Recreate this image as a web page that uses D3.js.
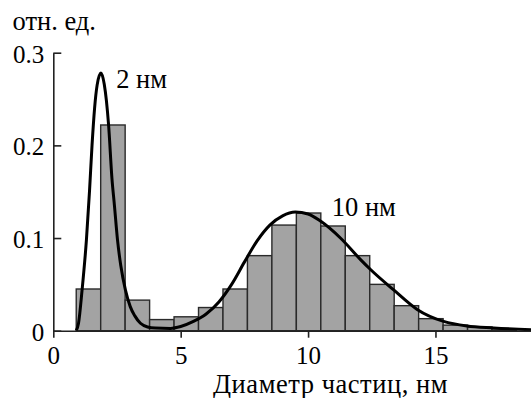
<!DOCTYPE html>
<html>
<head>
<meta charset="utf-8">
<script src="https://cdn.jsdelivr.net/npm/d3@7"></script>
<style>
  body { margin: 0; background: #fff; }
</style>
</head>
<body>
<svg id="chart" width="531" height="398"></svg>
<script>
// границы интервалов гистограммы (нм)
const binEdges = [0.9, 1.86, 2.82, 3.78, 4.74, 5.7, 6.66, 7.62, 8.58, 9.54, 10.5, 11.46, 12.42, 13.38, 14.34, 15.3, 16.26, 17.22, 18.18];
// высоты столбцов, отн. ед.
const binValues = [0.045, 0.222, 0.033, 0.012, 0.015, 0.025, 0.045, 0.081, 0.114, 0.127, 0.113, 0.081, 0.050, 0.027, 0.013, 0.006, 0.004, 0.002];

// аппроксимирующая кривая (точки)
const curveX = [0.9, 0.99, 1.13, 1.3, 1.42, 1.52, 1.62, 1.72, 1.87, 2.0, 2.17, 2.3, 2.4, 2.52, 2.65, 2.83, 3.02, 3.2, 3.42, 3.7, 4.0, 4.6, 5.0, 5.5, 6.0, 6.5, 7.0, 7.5, 8.0, 8.5, 9.0, 9.5, 10.0, 10.5, 11.27, 12.05, 12.45, 13.36, 14.28, 15.32, 16.24, 17.29, 18.8];
const curveY = [0, 0.008, 0.044, 0.098, 0.15, 0.2, 0.24, 0.265, 0.278, 0.266, 0.222, 0.165, 0.135, 0.098, 0.07, 0.044, 0.026, 0.016, 0.008, 0.004, 0.0028, 0.0025, 0.0045, 0.01, 0.018, 0.031, 0.05, 0.074, 0.097, 0.114, 0.124, 0.128, 0.126, 0.118, 0.1, 0.077, 0.066, 0.044, 0.023, 0.01, 0.005, 0.003, 0.001];

const xTicks = [0, 5, 10, 15];
const yTicks = [0, 0.1, 0.2, 0.3];
const peakLabels = [
  { text: "2 нм", x: 2.47, y: 0.262 },
  { text: "10 нм", x: 10.93, y: 0.124 }
];

const FONT = "Liberation Serif";
const FS_TICK = 25;
const FS_TEXT = 26.5;

const svg = d3.select("#chart");
const x = d3.scaleLinear().domain([0, 18.75]).range([53.3, 531]);
const y = d3.scaleLinear().domain([0, 0.3]).range([330.7, 52.7]);

// столбцы
const bins = binValues.map((v, i) => ({ x0: binEdges[i], x1: binEdges[i + 1], v: v }));
svg.append("g").selectAll("rect")
  .data(bins)
  .join("rect")
  .attr("x", d => x(d.x0))
  .attr("y", d => y(d.v))
  .attr("width", d => x(d.x1) - x(d.x0))
  .attr("height", d => y(0) - y(d.v))
  .attr("fill", "#a3a3a3")
  .attr("stroke", "#2a2a2a")
  .attr("stroke-width", 1.4);

// кривая
const pts = curveX.map((v, i) => [v, curveY[i]]);
svg.append("path")
  .datum(pts)
  .attr("fill", "none")
  .attr("stroke", "#000")
  .attr("stroke-width", 3)
  .attr("d", d3.line().x(d => x(d[0])).y(d => y(d[1])).curve(d3.curveMonotoneX));

// ось X
const xAxis = svg.append("g")
  .attr("transform", `translate(0,${y(0)})`)
  .call(d3.axisBottom(x).tickValues(xTicks).tickSize(7).tickSizeOuter(0).tickFormat(d3.format("d")));
xAxis.select(".domain").attr("stroke", "#222").attr("stroke-width", 1.6);
xAxis.selectAll(".tick line").attr("stroke", "#222").attr("stroke-width", 1.6);
xAxis.selectAll(".tick text")
  .attr("font-size", FS_TICK)
  .attr("fill", "#000")
  .attr("dy", null)
  .attr("y", 33.3);

// ось Y
const yAxis = svg.append("g")
  .attr("transform", `translate(${x(0)},0)`)
  .call(d3.axisRight(y).tickValues(yTicks).tickSize(8).tickSizeOuter(0).tickFormat(d => d === 0 ? "0" : d3.format(".1f")(d)));
yAxis.select(".domain").attr("stroke", "#222").attr("stroke-width", 1.6);
yAxis.selectAll(".tick line").attr("stroke", "#222").attr("stroke-width", 1.6);
yAxis.selectAll(".tick text")
  .attr("font-size", FS_TICK)
  .attr("fill", "#000")
  .attr("text-anchor", "end")
  .attr("x", -9)
  .attr("dy", null)
  .attr("y", 9.5);

// подписи
svg.selectAll(".peak")
  .data(peakLabels)
  .join("text")
  .attr("class", "peak")
  .attr("x", d => x(d.x))
  .attr("y", d => y(d.y))
  .attr("font-size", FS_TEXT)
  .text(d => d.text);

svg.append("text")
  .attr("x", 12.5)
  .attr("y", 29.5)
  .attr("font-size", FS_TEXT)
  .text("отн. ед.");

svg.append("text")
  .attr("x", 213)
  .attr("y", 393.3)
  .attr("font-size", FS_TEXT)
  .attr("textLength", 234.5)
  .text("Диаметр частиц, нм");

svg.selectAll("text").style("font-family", FONT);
</script>
</body>
</html>
